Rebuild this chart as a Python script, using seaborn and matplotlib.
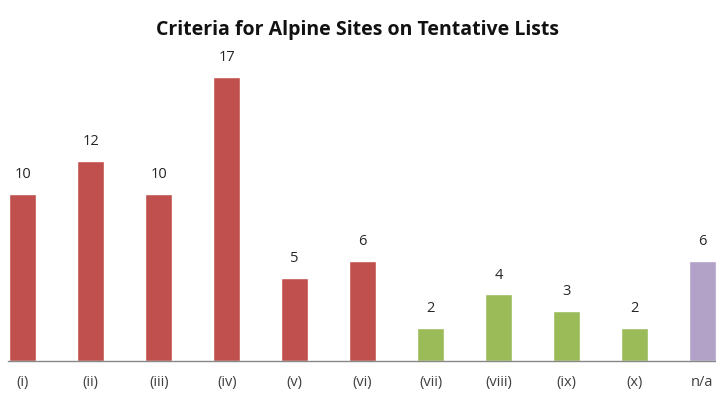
import pandas as pd
import numpy as np
import matplotlib
matplotlib.use('Agg')
import matplotlib.pyplot as plt
import seaborn as sns

criteria = ['(i)', '(ii)', '(iii)', '(iv)', '(v)', '(vi)', '(vii)', '(viii)', '(ix)', '(x)', 'n/a']
sites = [10, 12, 10, 17, 5, 6, 2, 4, 3, 2, 6]
groups = ['cultural'] * 6 + ['natural'] * 4 + ['none']
group_colors = {'cultural': '#C0504D', 'natural': '#9BBB59', 'none': '#B3A2C7'}

df = pd.DataFrame({'criterion': criteria, 'sites': sites, 'group': groups})

sns.set_style('white')
plt.rcParams['font.family'] = ['Open Sans', 'DejaVu Sans']

fig = plt.figure(figsize=(7.16, 4.03), dpi=100)
ax = fig.add_axes([0.011, 0.104, 0.989, 0.746])

#barras coloreadas por grupo de criterio
sns.barplot(data=df, x='criterion', y='sites', hue='group', palette=group_colors,
            dodge=False, width=0.4, saturation=1, legend=False, ax=ax)

for i, v in enumerate(sites):
    ax.text(i, v + 0.7, str(v), ha='center', va='bottom', fontsize=10.5, color='#262626')

ax.set_xlim(-0.22, 10.2)
ax.set_ylim(0, 18)
ax.set_xlabel('')
ax.set_ylabel('')
ax.set_yticks([])
ax.tick_params(axis='x', length=0, pad=10, labelsize=10.5, labelcolor='#404040')
for s in ['top', 'right', 'left']:
    ax.spines[s].set_visible(False)
ax.spines['bottom'].set_color('#888888')
ax.spines['bottom'].set_linewidth(1)

fig.text(0.5, 0.925, 'Criteria for Alpine Sites on Tentative Lists', ha='center', va='center',
         fontsize=14, fontweight='bold', color='#111111')

plt.savefig('out.png', dpi=100)
